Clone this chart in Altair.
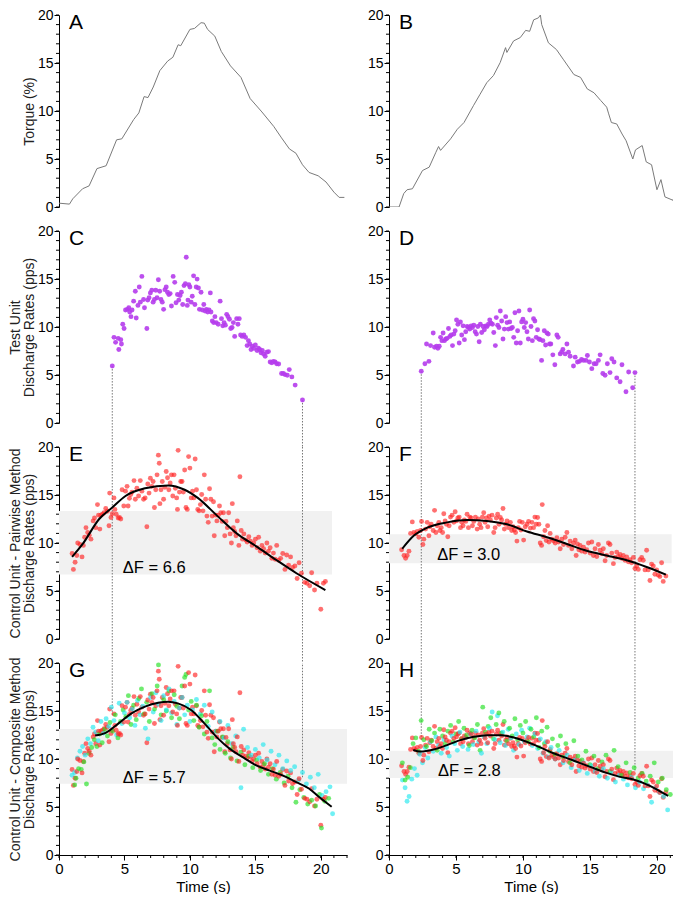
import altair as alt
import pandas as pd

# ---------------- data ----------------
A_PTS = [(0,0.4),(0.8,0.3),(1.05,0.85),(1.8,1.9),(2.3,2.2),(2.9,4.0),(3.6,4.3),(4.4,7.0),(4.8,7.1),
         (5.7,9.1),(6.1,9.8),(6.5,11.5),(6.8,11.4),(7.2,12.5),(7.7,14.2),(8.3,15.2),(8.7,15.6),(9.1,16.9),
         (9.3,16.8),(10.0,18.5),(10.35,18.6),(10.85,19.2),(11.1,19.15),(11.35,18.5),(11.9,17.8),(12.4,16.2),
         (13.1,14.7),(13.9,13.5),(14.6,11.3),(15.5,9.9),(16.4,8.4),(17.0,7.2),(17.6,6.05),(18.1,5.6),
         (18.6,4.4),(19.1,3.6),(19.8,3.25),(20.4,2.6),(21.0,1.55),(21.4,1.0),(21.8,1.0)]

B_PTS = [(0,0),(0.75,0),(1.1,1.4),(1.35,1.8),(1.75,1.9),(2.5,3.8),(3.0,4.15),(3.5,5.7),(3.7,6.3),(3.85,5.9),
         (4.6,7.1),(5.1,8.1),(5.6,8.8),(6.3,10.55),(6.8,11.75),(7.3,12.95),(7.8,13.7),(8.3,15.05),(8.7,16.6),
         (8.8,16.1),(9.3,17.3),(9.8,17.65),(10.2,18.4),(10.5,18.3),(10.8,19.5),(11.15,19.7),(11.3,20.0),
         (11.4,19.0),(11.9,17.1),(12.5,16.4),(13.0,15.4),(13.8,13.8),(14.3,13.5),(14.8,12.3),(15.3,11.9),
         (15.8,11.1),(16.25,10.4),(16.4,9.7),(16.6,8.8),(17.0,8.65),(17.4,7.6),(17.7,6.9),(18.2,5.0),
         (18.4,5.95),(18.9,6.4),(19.2,4.7),(19.6,4.4),(20.0,1.8),(20.3,2.85),(20.6,1.05),(21.2,0.7),
         (21.4,1.45),(21.7,0.6)]

C_PTS = [(4.07,5.93),(4.20,8.92),(4.32,8.40),(4.52,8.82),(4.57,7.65),(4.72,8.68),(4.77,8.23),(4.87,10.29),
         (4.97,9.85),(5.08,11.77),(5.23,11.84),(5.33,12.01),(5.40,11.56),(5.50,11.08),(5.58,11.77),(5.70,12.69),
         (5.83,13.72),(5.90,10.94),(6.03,12.25),(6.13,14.17),(6.21,12.59),(6.33,15.27),(6.46,12.86),(6.53,12.01),
         (6.71,9.85),(6.78,12.80),(6.88,13.04),(6.98,13.55),(7.09,13.83),(7.19,12.59),(7.29,12.86),(7.39,13.83),
         (7.49,13.04),(7.59,14.92),(7.69,13.72),(7.79,12.86),(7.89,12.59),(7.99,11.84),(8.09,13.89),(8.19,14.17),
         (8.29,13.62),(8.39,13.38),(8.49,13.48),(8.59,12.18),(8.72,15.27),(8.84,14.65),(8.94,12.52),(9.05,13.38),
         (9.15,12.80),(9.25,13.28),(9.35,13.62),(9.45,12.35),(9.55,14.31),(9.65,14.51),(9.72,17.26),(9.80,12.25),
         (9.85,12.80),(9.92,14.41),(10.0,14.17),(10.1,12.59),(10.18,13.21),(10.28,15.33),(10.38,12.35),(10.48,14.17),
         (10.55,14.99),(10.65,14.07),(10.73,11.84),(10.85,13.62),(10.95,11.77),(11.06,12.35),(11.16,11.66),
         (11.26,11.84),(11.36,11.56),(11.46,11.77),(11.56,13.55),(11.61,11.56),(11.71,10.63),(11.81,10.46),
         (11.91,11.08),(12.01,10.46),(12.16,10.29),(12.31,12.69),(12.41,10.87),(12.51,10.12),(12.61,10.46),
         (12.71,10.19),(12.81,11.32),(12.91,11.08),(13.02,10.81),(13.12,9.85),(13.22,9.95),(13.32,10.46),
         (13.42,9.02),(13.57,10.87),(13.67,10.29),(13.77,10.87),(13.87,9.16),(13.99,9.02),(14.12,9.16),(14.25,8.92),
         (14.37,8.06),(14.47,8.58),(14.57,8.23),(14.67,7.65),(14.77,7.99),(14.87,7.79),(15.0,8.13),(15.13,7.55),
         (15.23,7.79),(15.33,7.65),(15.43,7.31),(15.53,7.55),(15.63,7.20),(15.75,6.96),(15.88,7.38),(16.0,7.44),
         (16.13,6.35),(16.26,6.28),(16.38,6.42),(16.51,6.35),(16.63,6.17),(16.78,6.14),(17.0,5.15),(17.14,5.15),
         (17.26,5.04),(17.44,4.97),(17.59,5.56),(17.79,4.80),(18.04,3.95),(18.6,2.40)]

D_PTS = [(2.41,5.39),(2.68,6.17),(2.8,8.23),(2.98,6.42),(3.1,8.06),(3.3,9.37),(3.4,7.89),(3.55,7.99),(3.65,7.79),
         (3.75,7.99),(3.85,8.92),(3.95,8.58),(4.04,9.37),(4.14,8.58),(4.24,8.75),(4.34,8.82),(4.44,9.85),(4.54,9.02),
         (4.64,9.16),(4.74,8.06),(4.84,9.26),(4.94,9.61),(5.04,10.74),(5.14,10.29),(5.24,8.34),(5.33,10.53),
         (5.43,9.16),(5.53,10.12),(5.63,8.68),(5.73,9.5),(5.83,10.05),(5.93,9.95),(6.03,9.78),(6.13,10.12),
         (6.23,9.95),(6.33,10.19),(6.43,9.5),(6.53,9.26),(6.63,10.05),(6.73,8.47),(6.82,10.29),(6.92,9.43),
         (7.02,10.05),(7.12,9.71),(7.22,10.12),(7.32,10.05),(7.42,10.29),(7.52,10.74),(7.62,10.39),(7.72,10.29),
         (7.82,9.43),(7.94,8.06),(8.01,10.98),(8.11,10.19),(8.21,9.95),(8.31,11.66),(8.41,10.63),(8.51,8.75),
         (8.61,9.78),(8.71,11.08),(8.81,10.46),(8.91,9.78),(9.01,10.53),(9.11,9.85),(9.21,9.95),(9.31,8.92),
         (9.4,11.49),(9.5,8.34),(9.6,9.61),(9.7,11.66),(9.8,8.34),(9.9,10.53),(10.0,10.81),(10.1,9.95),(10.2,10.46),
         (10.3,9.5),(10.4,8.75),(10.5,11.77),(10.6,10.05),(10.7,8.58),(10.79,10.87),(10.89,10.63),(10.99,8.92),
         (11.09,9.71),(11.19,8.75),(11.29,8.68),(11.39,6.52),(11.49,8.58),(11.59,9.61),(11.69,8.13),(11.79,9.37),
         (11.89,9.26),(11.99,8.23),(12.08,8.23),(12.23,7.1),(12.38,6.07),(12.53,9.16),(12.63,8.92),(12.78,7.2),
         (12.88,7.38),(12.98,7.65),(13.15,7.2),(13.28,8.23),(13.4,7.38),(13.52,6.96),(13.77,5.93),(13.9,6.86),
         (14.07,6.35),(14.22,6.42),(14.37,6.62),(14.52,6.52),(14.71,6.52),(14.81,7.03),(14.96,6.35),(15.14,5.66),
         (15.31,6.17),(15.46,6.17),(15.63,6.52),(15.76,7.1),(15.96,5.15),(16.13,4.97),(16.3,6.17),(16.5,5.25),
         (16.63,6.69),(16.8,6.35),(17.0,4.7),(17.25,4.29),(17.39,6.07),(17.69,3.26),(17.89,5.32),(18.19,3.67),
         (18.36,5.25)]

E_PTS = [(1.0,8.9),(1.1,7.25),(1.23,8.0),(1.36,8.7),(1.43,10.0),(1.6,9.85),(1.76,8.55),(1.86,9.75),(1.96,10.6),
         (2.06,11.6),(2.19,11.1),(2.31,10.8),(2.44,10.4),(2.61,12.3),(2.71,12.6),(2.81,11.6),(2.94,14.0),(3.02,12.9),
         (3.12,11.45),(3.19,12.9),(3.32,13.0),(3.44,13.15),(3.57,13.6),(3.69,13.3),(3.82,11.8),(3.87,15.2),
         (3.97,12.65),(4.07,13.05),(4.2,14.7),(4.27,13.5),(4.37,13.0),(4.52,12.6),(4.62,12.65),(4.72,12.5),
         (4.82,15.55),(4.95,13.85),(5.08,15.4),(5.2,15.9),(5.28,13.85),(5.38,14.65),(5.48,15.05),(5.58,15.3),
         (5.73,16.5),(5.83,14.55),(5.95,15.7),(6.08,14.9),(6.21,16.5),(6.33,15.4),(6.46,14.55),(6.58,14.7),
         (6.71,11.7),(6.78,16.15),(6.88,15.2),(6.98,16.75),(7.09,15.9),(7.19,16.4),(7.29,13.7),(7.39,15.55),
         (7.49,17.1),(7.59,19.15),(7.66,18.3),(7.71,14.1),(7.79,15.55),(7.89,16.4),(7.99,14.55),(8.09,15.8),
         (8.19,17.45),(8.29,16.8),(8.39,15.55),(8.49,16.25),(8.59,17.1),(8.69,14.9),(8.79,17.1),(8.89,15.7),
         (8.99,14.7),(9.05,13.5),(9.1,19.65),(9.2,15.3),(9.3,16.4),(9.4,16.4),(9.5,15.3),(9.6,17.6),(9.7,13.7),
         (9.8,13.5),(9.9,19.0),(10.0,17.8),(10.1,14.7),(10.2,15.4),(10.3,14.7),(10.4,18.75),(10.5,15.55),
         (10.6,13.5),(10.7,13.35),(10.8,14.0),(10.9,15.05),(11.0,13.35),(11.1,17.1),(11.2,14.55),(11.3,12.8),
         (11.4,12.15),(11.5,15.65),(11.6,14.55),(11.7,12.8),(11.8,14.3),(11.86,10.75),(11.96,12.9),(12.06,12.3),
         (12.16,12.9),(12.26,13.85),(12.36,13.15),(12.46,12.25),(12.56,13.15),(12.66,10.75),(12.76,12.25),
         (12.86,11.6),(12.96,13.15),(13.07,10.95),(13.17,10.0),(13.24,14.1),(13.32,11.6),(13.42,11.2),
         (13.52,10.75),(13.62,12.3),(13.74,9.75),(13.82,16.9),(13.92,11.3),(14.02,10.4),(14.12,10.95),(14.27,10.3),
         (14.37,10.1),(14.5,10.65),(14.62,10.2),(14.75,9.75),(14.87,10.0),(15.0,10.4),(15.13,9.5),(15.25,10.6),
         (15.38,9.15),(15.5,9.75),(15.63,9.4),(15.75,8.95),(15.88,10.0),(16.0,9.15),(16.13,9.5),(16.26,8.4),
         (16.38,8.95),(16.51,8.3),(16.63,9.75),(16.78,8.2),(16.93,8.4),(17.09,8.9),(17.26,7.25),(17.39,8.75),
         (17.54,7.7),(17.69,8.55),(17.84,7.45),(18.02,7.6),(18.19,6.3),(18.34,7.95),(18.52,6.85),(18.77,5.9),
         (18.94,5.8),(19.15,5.55),(19.3,6.9),(19.52,5.1),(19.7,5.8),(20.0,3.1),(20.2,5.8),(20.35,6.0)]

F_PTS = [(0.94,9.3),(1.12,8.7),(1.24,8.4),(1.36,8.7),(1.49,9.15),(1.61,11.0),(1.74,12.2),(1.86,11.1),(1.99,10.95),
         (2.11,11.2),(2.23,10.6),(2.36,11.3),(2.43,12.25),(2.53,9.85),(2.6,10.4),(2.73,11.45),(2.85,12.15),
         (2.98,10.75),(3.05,11.7),(3.15,11.95),(3.3,11.3),(3.4,13.4),(3.5,11.1),(3.6,11.8),(3.72,12.15),(3.8,11.3),
         (3.9,11.6),(4.0,11.1),(4.09,13.05),(4.19,12.3),(4.29,11.95),(4.39,10.65),(4.49,11.8),(4.59,12.7),
         (4.71,12.9),(4.84,12.15),(4.94,13.25),(5.04,12.3),(5.14,12.6),(5.24,12.7),(5.34,11.6),(5.43,12.15),
         (5.53,11.8),(5.63,12.4),(5.73,12.25),(5.83,13.0),(5.93,11.6),(6.03,12.7),(6.13,12.6),(6.23,11.8),
         (6.33,12.25),(6.45,12.7),(6.58,11.45),(6.67,12.5),(6.77,11.95),(6.87,11.6),(6.97,12.7),(7.07,13.15),
         (7.17,12.15),(7.27,12.6),(7.37,11.7),(7.47,12.8),(7.57,12.4),(7.69,12.9),(7.82,11.1),(7.92,11.6),
         (8.01,12.6),(8.11,13.0),(8.21,11.95),(8.31,12.65),(8.41,12.4),(8.51,13.6),(8.61,11.45),(8.71,11.95),
         (8.81,12.3),(8.93,11.6),(9.06,12.15),(9.16,11.3),(9.26,11.7),(9.35,11.35),(9.45,11.1),(9.55,10.2),
         (9.65,11.6),(9.75,12.25),(9.85,11.35),(9.95,12.15),(10.05,10.3),(10.17,11.7),(10.3,11.95),(10.42,12.25),
         (10.55,11.55),(10.67,12.15),(10.79,11.6),(10.89,12.7),(10.99,11.95),(11.09,12.65),(11.19,11.95),
         (11.29,10.0),(11.39,9.75),(11.44,14.0),(11.54,10.65),(11.64,11.3),(11.74,10.25),(11.84,11.8),(11.94,10.1),
         (12.03,11.0),(12.16,10.4),(12.28,10.2),(12.41,10.0),(12.53,10.55),(12.66,10.1),(12.78,9.4),(12.9,10.4),
         (13.03,9.85),(13.15,10.6),(13.28,11.1),(13.4,9.75),(13.52,10.2),(13.65,9.4),(13.77,10.0),(13.9,10.3),
         (13.97,8.7),(14.07,9.9),(14.17,9.3),(14.27,9.75),(14.39,9.15),(14.52,9.55),(14.64,9.05),(14.76,9.3),
         (14.89,10.0),(15.01,8.95),(15.14,10.1),(15.26,8.7),(15.38,9.4),(15.51,8.6),(15.63,9.85),(15.76,9.25),
         (15.88,8.9),(16.0,9.4),(16.13,8.15),(16.25,8.7),(16.38,10.0),(16.5,9.85),(16.63,8.95),(16.75,7.85),
         (16.87,8.5),(17.0,9.05),(17.12,8.6),(17.25,8.8),(17.37,8.4),(17.49,8.7),(17.62,8.2),(17.74,8.55),
         (17.87,8.05),(17.99,8.25),(18.11,7.95),(18.24,8.5),(18.36,7.35),(18.49,7.6),(18.61,7.25),(18.73,8.25),
         (18.86,8.5),(18.98,8.2),(19.11,7.2),(19.23,9.25),(19.35,7.2),(19.48,6.1),(19.6,7.8),(19.73,7.6),
         (19.85,6.75),(19.98,7.2),(20.1,6.65),(20.22,6.5),(20.35,7.95),(20.47,6.0),(20.67,6.55)]

G_GREEN = [(1.2,7.3),(1.3,8.0),(1.5,9.0),(1.7,8.9),(1.9,9.7),(2.1,7.4),(2.3,10.6),(2.5,11.2),(2.7,12.0),(2.9,11.3),
           (3.1,12.6),(3.3,11.7),(3.5,13.1),(3.7,12.4),(3.9,13.8),(4.1,12.9),(4.3,14.6),(4.5,12.2),(4.7,13.9),
           (4.9,15.1),(5.1,14.4),(5.3,16.6),(5.5,13.6),(5.7,15.6),(5.9,14.1),(6.1,16.3),(6.3,17.3),(6.5,14.7),
           (6.7,15.9),(6.9,13.9),(7.1,16.8),(7.3,15.2),(7.5,17.6),(7.6,19.8),(7.8,14.6),(8.0,16.2),(8.2,15.0),
           (8.4,17.1),(8.6,14.3),(8.8,16.7),(9.0,15.5),(9.2,14.2),(9.4,17.6),(9.6,18.5),(9.7,18.8),(9.9,15.1),
           (10.1,16.0),(10.3,14.0),(10.5,15.6),(10.7,13.3),(10.9,14.5),(11.1,12.6),(11.3,13.9),(11.5,17.1),
           (11.7,12.2),(11.9,11.5),(12.1,12.9),(12.3,11.0),(12.5,12.3),(12.7,10.6),(12.9,11.8),(13.1,10.1),
           (13.3,11.2),(13.6,9.8),(13.9,10.7),(14.2,9.4),(14.5,10.3),(14.8,9.1),(15.1,9.9),(15.4,8.8),(15.7,9.5),
           (16.0,8.4),(16.3,9.0),(16.6,7.9),(16.9,8.6),(17.2,7.5),(17.5,8.2),(17.8,7.0),(18.1,5.5),(18.4,6.8),
           (18.7,6.0),(19.0,5.3),(19.3,5.7),(19.6,5.1),(19.9,6.3),(20.05,2.8),(20.3,5.6),(20.6,5.9)]

G_CYAN = [(1.0,8.3),(1.2,8.6),(1.4,10.1),(1.6,10.8),(1.8,11.3),(2.0,10.4),(2.2,12.1),(2.4,11.6),(2.6,13.3),(2.8,12.8),
          (3.0,11.9),(3.2,13.9),(3.4,12.7),(3.6,14.2),(3.8,13.4),(4.0,15.4),(4.2,14.0),(4.4,12.5),(4.6,15.8),
          (4.8,13.7),(5.0,14.8),(5.2,15.9),(5.4,14.3),(5.6,15.2),(5.8,13.5),(6.0,16.1),(6.2,14.6),(6.4,15.5),
          (6.6,13.2),(6.8,12.1),(7.0,16.4),(7.2,14.9),(7.4,16.9),(7.6,15.7),(7.8,14.0),(8.0,16.6),(8.2,15.1),
          (8.4,17.3),(8.6,14.8),(8.8,16.0),(9.0,13.6),(9.2,15.3),(9.4,16.4),(9.6,14.6),(9.8,15.6),(10.0,13.9),
          (10.2,15.1),(10.5,16.2),(10.8,14.7),(11.1,15.6),(11.4,13.4),(11.7,14.9),(12.0,12.9),(12.3,13.9),
          (12.6,12.2),(12.9,13.5),(13.2,11.6),(13.5,12.4),(13.9,7.0),(14.1,13.1),(14.4,11.2),(14.7,10.4),
          (15.0,11.0),(15.3,10.1),(15.6,11.5),(15.9,9.9),(16.2,10.8),(16.5,9.4),(16.8,10.4),(17.1,9.0),(17.4,9.8),
          (17.7,8.8),(18.0,9.2),(18.3,7.8),(18.6,8.6),(18.9,7.4),(19.2,8.1),(19.5,7.0),(19.8,8.4),(20.1,6.2),
          (20.4,6.6),(20.7,7.1),(20.9,4.3)]

H_GREEN = [(1.0,9.6),(1.2,7.8),(1.4,8.1),(1.6,9.1),(1.8,11.6),(2.0,12.2),(2.2,10.8),(2.4,14.0),(2.6,12.0),(2.8,11.3),
           (3.0,13.1),(3.2,11.9),(3.4,12.7),(3.6,10.9),(3.8,13.1),(4.0,12.4),(4.2,11.6),(4.4,12.9),(4.6,13.5),
           (4.8,11.8),(5.0,12.6),(5.2,13.9),(5.4,12.1),(5.6,13.2),(5.8,12.5),(6.0,11.4),(6.2,13.0),(6.4,12.2),
           (6.6,13.6),(6.8,10.9),(7.0,15.4),(7.2,12.8),(7.4,13.4),(7.6,14.3),(7.8,12.1),(8.0,13.6),(8.2,14.8),
           (8.4,12.7),(8.6,13.9),(8.8,11.9),(9.0,13.2),(9.2,12.4),(9.4,14.2),(9.6,12.0),(9.8,13.5),(10.0,12.7),
           (10.2,13.9),(10.4,11.8),(10.6,13.1),(10.8,12.3),(11.0,14.3),(11.2,11.2),(11.4,12.9),(11.6,11.6),
           (11.8,13.3),(12.0,10.8),(12.2,12.1),(12.4,10.5),(12.6,11.4),(12.8,12.4),(13.0,10.2),(13.2,11.6),
           (13.5,9.6),(13.8,11.9),(14.1,10.3),(14.4,9.9),(14.7,10.8),(15.0,9.4),(15.3,10.3),(15.6,9.0),(15.9,9.7),
           (16.2,10.4),(16.5,8.7),(16.8,10.9),(17.1,9.2),(17.4,8.3),(17.7,9.6),(18.0,8.6),(18.3,9.1),(18.6,8.0),
           (18.9,8.5),(19.2,7.7),(19.5,8.2),(19.8,9.6),(20.1,7.6),(20.4,8.0),(20.7,6.8),(21.0,6.3)]

H_CYAN = [(1.0,7.8),(1.2,7.0),(1.35,5.6),(1.5,6.1),(1.7,7.9),(1.9,9.0),(2.1,8.3),(2.3,10.5),(2.5,9.6),(2.7,11.2),
          (2.9,10.1),(3.1,11.8),(3.3,10.8),(3.5,12.3),(3.7,11.4),(3.9,10.6),(4.1,12.0),(4.3,11.2),(4.5,10.3),
          (4.7,12.4),(4.9,11.6),(5.1,10.9),(5.3,12.8),(5.5,11.3),(5.7,12.2),(5.9,11.0),(6.1,12.6),(6.3,11.5),
          (6.5,12.9),(6.7,11.8),(6.9,10.6),(7.1,12.3),(7.3,11.6),(7.5,13.2),(7.7,14.9),(7.9,12.0),(8.1,14.5),
          (8.3,11.7),(8.5,12.8),(8.7,11.4),(8.9,13.1),(9.1,12.2),(9.3,10.9),(9.5,12.6),(9.7,11.5),(9.9,13.0),
          (10.1,11.8),(10.3,12.3),(10.5,13.2),(10.7,11.4),(10.9,12.6),(11.1,11.1),(11.3,12.1),(11.5,10.6),
          (11.7,11.8),(11.9,10.2),(12.1,11.2),(12.4,10.0),(12.7,10.9),(13.0,9.6),(13.3,10.4),(13.6,9.1),(13.9,9.9),
          (14.2,8.8),(14.5,9.6),(14.8,8.5),(15.1,9.3),(15.4,8.7),(15.7,8.2),(16.0,9.0),(16.3,8.0),(16.6,8.6),
          (16.9,7.6),(17.2,8.3),(17.5,7.9),(17.8,7.3),(18.1,8.1),(18.4,7.0),(18.7,7.6),(19.0,6.9),(19.3,7.3),
          (19.6,5.5),(19.9,7.0),(20.2,6.5),(20.5,6.1),(20.8,4.7)]

E_CURVE = [(1.0,8.55),(1.81,9.9),(3.07,12.5),(4.07,13.7),(5.08,14.9),(6.58,15.7),(8.34,16.0),(9.6,15.55),
           (10.6,14.7),(12.11,12.8),(13.62,10.95),(15.13,9.6),(16.63,8.2),(18.14,6.85),(20.35,5.1)]
F_CURVE = [(0.99,9.4),(1.86,10.77),(2.85,11.6),(4.34,12.15),(5.83,12.4),(7.32,12.3),(8.81,11.95),(10.3,11.2),
           (11.79,10.6),(13.28,9.9),(14.76,9.2),(16.25,8.7),(17.74,8.2),(19.23,7.5),(20.67,6.7)]
G_CURVE = [(2.76,12.44),(3.56,12.72),(4.57,13.74),(5.57,14.77),(6.57,15.45),(7.58,15.86),(8.33,15.97),(9.08,15.79),
           (10.09,15.11),(11.09,13.74),(12.1,12.2),(13.1,11.0),(14.1,10.15),(15.11,9.3),(16.11,8.79),(17.11,8.27),
           (18.12,7.59),(19.12,6.9),(19.87,6.05),(20.83,5.03)]
H_CURVE = [(1.81,10.94),(2.36,10.77),(3.35,11.0),(4.34,11.45),(5.33,11.97),(6.33,12.31),(7.32,12.48),(8.31,12.48),
           (9.31,12.24),(10.3,11.79),(11.29,11.21),(12.28,10.6),(13.28,10.09),(14.27,9.57),(15.26,9.06),
           (16.25,8.55),(17.25,8.14),(18.24,7.86),(19.23,7.35),(19.98,6.84),(20.84,6.15)]

# bands: (x end, low, high)
BANDS = {"E": (20.85, 6.73, 13.33), "F": (21.1, 7.9, 10.9), "G": (22.0, 7.42, 13.13), "H": (22.0, 8.03, 10.87)}
DF_LABELS = {"E": ("ΔF = 6.6", 4.87, 7.35), "F": ("ΔF = 3.0", 3.6, 8.7),
             "G": ("ΔF = 5.7", 4.87, 8.0), "H": ("ΔF = 2.8", 3.65, 8.8)}
# dotted guide lines: x positions, start value in C/D, end value in G/H
GUIDE_X = {"L": [4.07, 18.6], "R": [2.41, 18.36]}
GUIDE_TOP = {"L": [5.93, 2.40], "R": [5.39, 5.25]}
GUIDE_BOT = {"L": [14.6, 8.1], "R": [12.0, 8.8]}

MAJOR = [0, 5, 10, 15, 20]
MINOR_Y = list(range(0, 21))
MINOR_X = {"L": list(range(0, 23)), "R": list(range(0, 22))}

# ---------------- style ----------------
H, GAP = 192, 24
WIDTH = {"L": 288, "R": 284}
XMAX = {"L": 22.0, "R": 21.2}
FONT = "Liberation Sans"
PURPLE = "#b53cec"
RED, GREEN, CYAN = "#ff2424", "#22e022", "#22e8ee"


def df(pts):
    return pd.DataFrame(pts, columns=["t", "v"])


def xenc(bottom, side):
    sc = alt.Scale(domain=[0, XMAX[side]], nice=False, zero=False)
    if bottom:
        ax = alt.Axis(values=MAJOR, tickSize=5, labelFontSize=15, titleFontSize=15, titleFontWeight="normal",
                      labelPadding=1, titlePadding=3, domainColor="black", tickColor="black",
                      labelColor="black", titleColor="black", grid=False, labelFlush=False,
                      labelFont=FONT, titleFont=FONT)
        return alt.X("t:Q", scale=sc, axis=ax, title="Time (s)")
    return alt.X("t:Q", scale=sc, axis=None)


def yenc(title):
    ax = alt.Axis(values=MAJOR, tickSize=5, labelFontSize=14, titleFontSize=14, titleFontWeight="normal",
                  labelPadding=1, titlePadding=1, domainColor="black", tickColor="black", labelColor="black",
                  titleColor="#222", grid=False, titleLineHeight=14, labelFont=FONT, titleFont=FONT)
    if title is None:
        return alt.Y("v:Q", scale=alt.Scale(domain=[0, 20], nice=False), axis=ax, title=None)
    return alt.Y("v:Q", scale=alt.Scale(domain=[0, 20], nice=False), axis=ax, title=title)


def panel(letter, ytitle, bottom, side, layers_fn):
    X = xenc(bottom, side)
    Y = yenc(ytitle)
    layers = []
    layers += layers_fn(X, Y)
    # minor y ticks
    layers.append(alt.Chart(pd.DataFrame({"v": MINOR_Y})).mark_rule(color="black", strokeWidth=1).encode(
        y=Y, x=alt.value(-3), x2=alt.value(0)))
    if bottom:
        layers.append(alt.Chart(pd.DataFrame({"t": MINOR_X[side]})).mark_rule(color="black", strokeWidth=1).encode(
            x=X, y=alt.value(H), y2=alt.value(H + 3)))
    layers.append(alt.Chart(pd.DataFrame({"l": [letter]})).mark_text(
        fontSize=21, font=FONT, align="left", baseline="middle", color="black").encode(
        x=alt.value(10), y=alt.value(8), text="l:N"))
    return alt.layer(*layers).properties(width=WIDTH[side], height=H,
                                         view=alt.ViewBackground(stroke="transparent", strokeWidth=0))


def band_layers(key, X, Y):
    xe, lo, hi = BANDS[key]
    b = alt.Chart(pd.DataFrame({"t": [0], "t2": [xe], "v": [lo], "v2": [hi]})).mark_rect(
        color="#f1f1f1", clip=True).encode(x=X, x2="t2:Q", y=Y, y2="v2:Q")
    lab, lx, ly = DF_LABELS[key]
    txt = alt.Chart(pd.DataFrame({"t": [lx], "v": [ly], "l": [lab]})).mark_text(
        fontSize=16.5, font=FONT, align="left", baseline="middle", color="black").encode(x=X, y=Y, text="l:N")
    return b, txt


def guide(side, kind, X, Y):
    d = pd.DataFrame({"t": GUIDE_X[side], "v": GUIDE_TOP[side] if kind == "top" else GUIDE_BOT[side]})
    m = alt.Chart(d).mark_rule(color="#777", strokeWidth=1, strokeDash=[1.5, 1.5])
    if kind == "top":
        return m.encode(x=X, y=Y, y2=alt.value(H + GAP))
    if kind == "mid":
        return m.encode(x=X, y=alt.value(0), y2=alt.value(H + GAP))
    return m.encode(x=X, y=Y, y2=alt.value(0))


def torque(pts):
    def f(X, Y):
        return [alt.Chart(df(pts)).mark_line(color="#7a7a7a", strokeWidth=1, clip=True).encode(x=X, y=Y)]
    return f


def test_unit(pts, side):
    def f(X, Y):
        return [guide(side, "top", X, Y),
                alt.Chart(df(pts)).mark_circle(size=24, color=PURPLE, opacity=0.9).encode(x=X, y=Y)]
    return f


def pairwise(pts, curve, key, side):
    def f(X, Y):
        b, txt = band_layers(key, X, Y)
        return [b, guide(side, "mid", X, Y), txt,
                alt.Chart(df(pts)).mark_circle(size=24, color=RED, opacity=0.65).encode(x=X, y=Y),
                alt.Chart(df(curve)).mark_line(color="black", strokeWidth=2, interpolate="monotone").encode(x=X, y=Y)]
    return f


def composite(red, green, cyan, curve, key, side):
    def f(X, Y):
        b, txt = band_layers(key, X, Y)
        parts = []
        for name, pts in (("red", red), ("green", green), ("cyan", cyan)):
            d = df(pts)
            d["s"] = name
            parts.append(d)
        allp = pd.concat(parts).sort_values("t", kind="stable").reset_index(drop=True)
        pts_layer = alt.Chart(allp).mark_circle(size=24, opacity=0.65).encode(
            x=X, y=Y, color=alt.Color("s:N", scale=alt.Scale(domain=["red", "green", "cyan"],
                                                            range=[RED, GREEN, CYAN]), legend=None))
        return [b, guide(side, "bot", X, Y), txt, pts_layer,
                alt.Chart(df(curve)).mark_line(color="black", strokeWidth=2, interpolate="monotone").encode(x=X, y=Y)]
    return f


panels = [
    panel("A", "Torque (%)", False, "L", torque(A_PTS)),
    panel("B", None, False, "R", torque(B_PTS)),
    panel("C", ["Test Unit", "Discharge Rates (pps)"], False, "L", test_unit(C_PTS, "L")),
    panel("D", None, False, "R", test_unit(D_PTS, "R")),
    panel("E", ["Control Unit - Pairwise Method", "Discharge Rates (pps)"], False, "L",
          pairwise(E_PTS, E_CURVE, "E", "L")),
    panel("F", None, False, "R", pairwise(F_PTS, F_CURVE, "F", "R")),
    panel("G", ["Control Unit - Composite Method", "Discharge Rates (pps)"], True, "L",
          composite(E_PTS, G_GREEN, G_CYAN, G_CURVE, "G", "L")),
    panel("H", None, True, "R", composite(F_PTS, H_GREEN, H_CYAN, H_CURVE, "H", "R")),
]

chart = alt.concat(*panels, columns=2, spacing={"row": GAP, "column": 42}, bounds="flush").resolve_scale(
    color="independent").properties(background="white", padding=0).configure_view(
    stroke="transparent", strokeWidth=0).configure_axis(labelFont=FONT, titleFont=FONT)

chart.save("out.html", embed_options={"renderer": "svg", "actions": False})
